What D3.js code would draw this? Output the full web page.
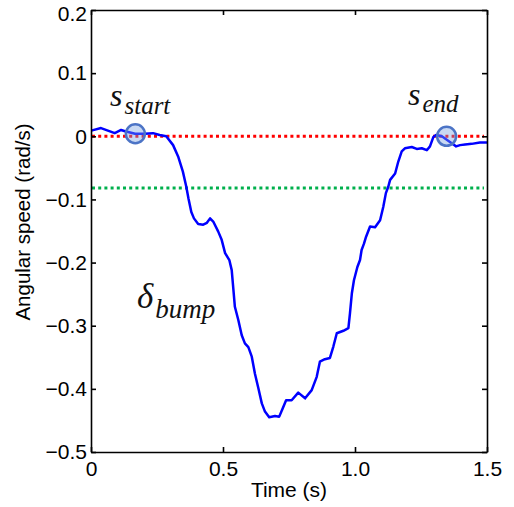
<!DOCTYPE html>
<html>
<head>
<meta charset="utf-8">
<script src="https://cdn.jsdelivr.net/npm/d3@7"></script>
<style>
  body { margin: 0; background: #fff; }
  svg { display: block; }
  .axes text { font-family: "Liberation Sans", Arial, sans-serif; font-size: 21px; fill: #000; }
  .axes path, .axes line { stroke: #000; stroke-width: 1.6; }
  .note { font-family: "Liberation Serif", "Times New Roman", serif; font-style: italic; fill: #111; }
</style>
</head>
<body>
<script>
// angular speed trace (time in s, speed in rad/s)
const time = [0.001, 0.038, 0.064, 0.090, 0.114, 0.129, 0.167, 0.203, 0.235, 0.260,
  0.285, 0.311, 0.330, 0.348, 0.361, 0.369, 0.380, 0.390, 0.406, 0.425,
  0.439, 0.451, 0.463, 0.482, 0.495, 0.508, 0.524, 0.533, 0.539, 0.545,
  0.558, 0.571, 0.583, 0.596, 0.609, 0.621, 0.634, 0.647, 0.659, 0.675,
  0.697, 0.713, 0.726, 0.739, 0.760, 0.785, 0.811, 0.836, 0.855, 0.867,
  0.886, 0.905, 0.918, 0.931, 0.956, 0.975, 0.981, 0.988, 0.996, 1.009,
  1.019, 1.025, 1.034, 1.042, 1.057, 1.076, 1.095, 1.107, 1.117, 1.126,
  1.133, 1.152, 1.164, 1.177, 1.189, 1.215, 1.234, 1.253, 1.272, 1.284,
  1.297, 1.307, 1.329, 1.353, 1.373, 1.383, 1.398, 1.417, 1.442, 1.473, 1.500];
const speed = [0.009, 0.013, 0.009, 0.005, 0.010, 0.008, 0.004, 0.004, 0.005, 0.002,
  0.000, -0.014, -0.032, -0.056, -0.080, -0.098, -0.120, -0.130, -0.139, -0.140,
  -0.137, -0.130, -0.135, -0.151, -0.164, -0.185, -0.196, -0.212, -0.241, -0.270,
  -0.291, -0.315, -0.328, -0.334, -0.349, -0.376, -0.399, -0.423, -0.436, -0.445,
  -0.443, -0.444, -0.431, -0.418, -0.418, -0.406, -0.415, -0.402, -0.381, -0.357,
  -0.353, -0.351, -0.333, -0.312, -0.308, -0.304, -0.280, -0.249, -0.228, -0.207,
  -0.196, -0.180, -0.170, -0.159, -0.143, -0.144, -0.133, -0.112, -0.090, -0.080,
  -0.069, -0.059, -0.040, -0.024, -0.019, -0.017, -0.020, -0.019, -0.022, -0.016,
  -0.001, 0.002, 0.000, -0.007, -0.013, -0.016, -0.014, -0.013, -0.012, -0.010, -0.010];

const thresholds = [0, -0.082];          // red, green dotted levels
const markTimes = [0.168, 1.347];        // s_start, s_end
const markSpeeds = [0.004, 0.0];

const xTicks = [0, 0.5, 1.0, 1.5];
const xTickLabels = ["0", "0.5", "1.0", "1.5"];
const yTicks = [0.2, 0.1, 0, -0.1, -0.2, -0.3, -0.4, -0.5];
const yTickLabels = ["0.2", "0.1", "0", "\u22120.1", "\u22120.2", "\u22120.3", "\u22120.4", "\u22120.5"];

const margin = {top: 10, right: 27, bottom: 55, left: 91},
      W = 514, H = 507,
      width = W - margin.left - margin.right,
      height = H - margin.top - margin.bottom;

const svg = d3.select("body").append("svg")
  .attr("width", W).attr("height", H);

const x = d3.scaleLinear().domain([0, 1.5]).range([margin.left, margin.left + width]);
const y = d3.scaleLinear().domain([-0.5, 0.2]).range([margin.top + height, margin.top]);

// threshold lines
const lineColors = ["#ff0000", "#00b04c"];
svg.selectAll("line.thr")
  .data(thresholds).enter()
  .append("line")
  .attr("class", "thr")
  .attr("x1", x(0) + 1).attr("x2", x(1.5) - 3)
  .attr("y1", (d) => y(d)).attr("y2", (d) => y(d))
  .attr("stroke", (d, i) => lineColors[i])
  .attr("stroke-width", 3)
  .attr("stroke-dasharray", "3,3.2");

// trace
const pts = time.map((t, i) => [t, speed[i]]);
svg.append("path")
  .datum(pts)
  .attr("fill", "none")
  .attr("stroke", "#0000ff")
  .attr("stroke-width", 2.5)
  .attr("stroke-linejoin", "round")
  .attr("d", d3.line().x((d) => x(d[0])).y((d) => y(d[1])));

// markers
svg.selectAll("circle")
  .data(markTimes).enter()
  .append("circle")
  .attr("cx", (d) => x(d))
  .attr("cy", (d, i) => y(markSpeeds[i]))
  .attr("r", 9.5)
  .attr("fill", "rgba(120,160,225,0.4)")
  .attr("stroke", "#4c74c6")
  .attr("stroke-width", 2.5);

// axes with inward ticks on all four sides
svg.append("g").classed("axes", true)
  .attr("transform", "translate(0," + (margin.top + height) + ")")
  .call(d3.axisBottom(x).tickValues(xTicks).tickFormat((d, i) => xTickLabels[i])
    .tickSizeInner(-5).tickSizeOuter(0).tickPadding(9));
svg.append("g").classed("axes", true)
  .attr("transform", "translate(0," + margin.top + ")")
  .call(d3.axisTop(x).tickValues(xTicks).tickFormat("").tickSizeInner(-5).tickSizeOuter(0));
const yAxisG = svg.append("g").classed("axes", true)
  .attr("transform", "translate(" + margin.left + ",0)")
  .call(d3.axisLeft(y).tickValues(yTicks).tickFormat((d, i) => yTickLabels[i])
    .tickSizeInner(-5).tickSizeOuter(0).tickPadding(4));
// keep the top label inside the picture
yAxisG.selectAll(".tick text").filter((d) => d === 0.2).attr("dy", "0.5em");
svg.append("g").classed("axes", true)
  .attr("transform", "translate(" + (margin.left + width) + ",0)")
  .call(d3.axisRight(y).tickValues(yTicks).tickFormat("").tickSizeInner(-5).tickSizeOuter(0));

// axis labels
svg.append("text")
  .attr("x", margin.left + width / 2).attr("y", 497)
  .attr("text-anchor", "middle")
  .style("font-family", "Liberation Sans, Arial, sans-serif").style("font-size", "21px")
  .text("Time (s)");
svg.append("text")
  .attr("transform", "translate(30,222) rotate(-90)")
  .attr("text-anchor", "middle")
  .style("font-family", "Liberation Sans, Arial, sans-serif").style("font-size", "20.5px")
  .text("Angular speed (rad/s)");

// annotations
function note(px, py, main, sub, mainSize, subSize, drop) {
  const t = svg.append("text").attr("class", "note").attr("x", px).attr("y", py);
  t.append("tspan").style("font-size", mainSize + "px").text(main);
  t.append("tspan").style("font-size", subSize + "px").attr("dx", 2).attr("dy", drop).text(sub);
}
note(110, 106, "s", "start", 32, 25, 8);
note(408, 105, "s", "end", 32, 25, 7);
note(137, 308, "\u03b4", "bump", 35, 27, 10);
</script>
</body>
</html>
